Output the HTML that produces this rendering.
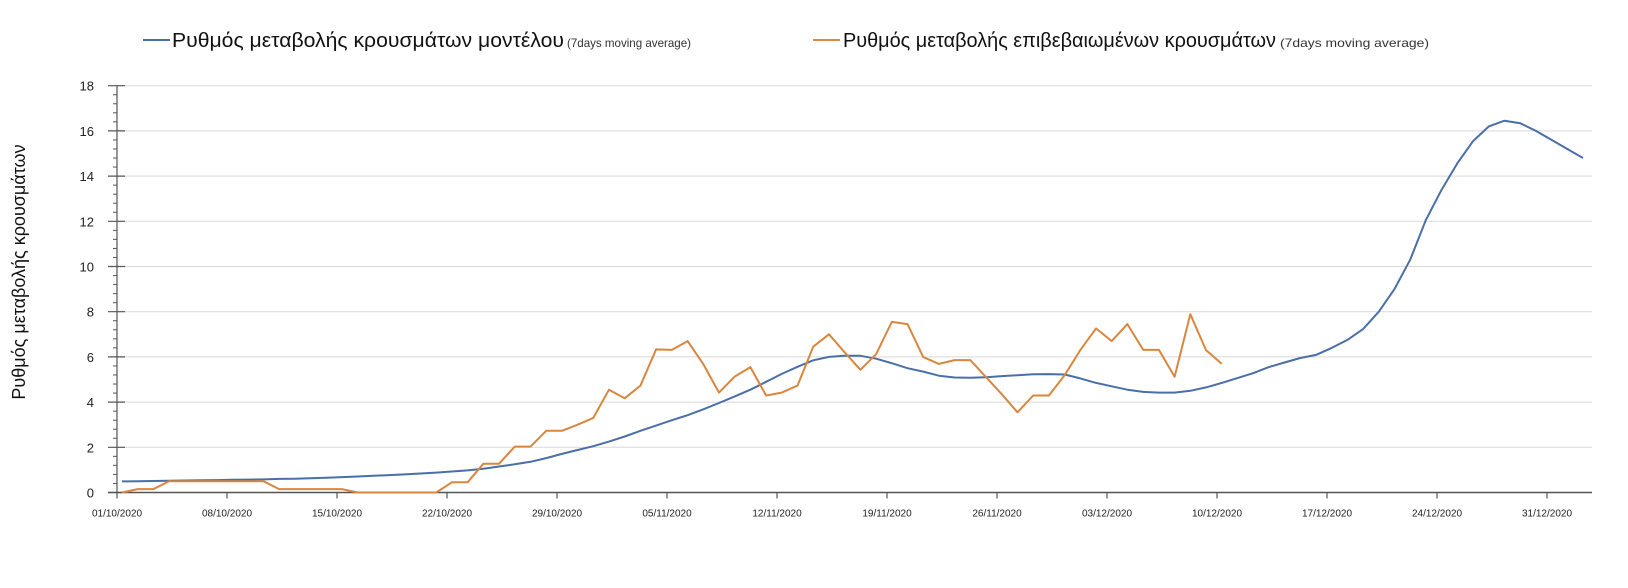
<!DOCTYPE html>
<html><head><meta charset="utf-8"><style>
html,body{margin:0;padding:0;background:#fff;}
svg{display:block;font-family:"Liberation Sans","DejaVu Sans",sans-serif;}
</style></head><body>
<svg id="chart" width="1628" height="588" viewBox="0 0 1628 588">
<g>
  <g>
    <line x1="143" y1="40" x2="170" y2="40" stroke="#4a6fa5" stroke-width="2"/>
    <text x="172" y="47" font-size="20" textLength="392" lengthAdjust="spacingAndGlyphs" fill="#111">Ρυθμός μεταβολής κρουσμάτων μοντέλου</text>
    <text x="567" y="47" font-size="12" textLength="124" lengthAdjust="spacingAndGlyphs" fill="#333">(7days moving average)</text>
  </g>
  <g>
    <line x1="813" y1="40" x2="840" y2="40" stroke="#d9883e" stroke-width="2"/>
    <text x="843" y="47" font-size="20" textLength="433" lengthAdjust="spacingAndGlyphs" fill="#111">Ρυθμός μεταβολής επιβεβαιωμένων κρουσμάτων</text>
    <text x="1280" y="47" font-size="12" textLength="149" lengthAdjust="spacingAndGlyphs" fill="#333">(7days moving average)</text>
  </g>
</g>
<text transform="translate(25,272) rotate(-90)" text-anchor="middle" font-size="18" fill="#111">Ρυθμός μεταβολής κρουσμάτων</text>
<g id="grid"></g><g id="axes"></g><g id="series"></g>
</svg>
<script>
const yTicks=[0,2,4,6,8,10,12,14,16,18];
const xLabels=["01/10/2020","08/10/2020","15/10/2020","22/10/2020","29/10/2020","05/11/2020","12/11/2020","19/11/2020","26/11/2020","03/12/2020","10/12/2020","17/12/2020","24/12/2020","31/12/2020"];
const modelValues=[0.49,0.5,0.51,0.52,0.53,0.54,0.55,0.56,0.57,0.58,0.6,0.61,0.63,0.65,0.68,0.71,0.74,0.77,0.8,0.84,0.88,0.93,0.98,1.05,1.15,1.25,1.36,1.52,1.71,1.88,2.05,2.25,2.48,2.73,2.96,3.2,3.42,3.68,3.96,4.25,4.55,4.9,5.25,5.56,5.85,6.0,6.05,6.05,5.92,5.72,5.5,5.35,5.17,5.09,5.08,5.1,5.15,5.19,5.23,5.24,5.22,5.05,4.85,4.7,4.55,4.45,4.42,4.42,4.5,4.65,4.85,5.06,5.28,5.55,5.75,5.95,6.09,6.4,6.75,7.23,8.0,9.0,10.3,12.06,13.4,14.57,15.55,16.2,16.45,16.34,16.0,15.6,15.2,14.8];
const confirmedValues=[0,0.15,0.15,0.5,0.5,0.5,0.5,0.5,0.5,0.5,0.15,0.15,0.15,0.15,0.15,0,0,0,0,0,0,0.45,0.45,1.27,1.27,2.03,2.03,2.73,2.73,3.0,3.3,4.55,4.17,4.73,6.33,6.31,6.7,5.68,4.42,5.13,5.55,4.29,4.42,4.73,6.45,7.0,6.2,5.43,6.12,7.55,7.45,5.99,5.69,5.86,5.86,5.1,4.35,3.55,4.29,4.29,5.19,6.3,7.26,6.7,7.45,6.31,6.31,5.12,7.89,6.3,5.7];
const NS="http://www.w3.org/2000/svg";
const X0=117,X1=1592,Y0=492.5,PXU=22.6,DAYPX=15.71,D0=122;
const xDay=d=>D0+DAYPX*d;
const yv=v=>Y0-PXU*v;
function mk(tag,attrs,parent){const e=document.createElementNS(NS,tag);for(const k in attrs)e.setAttribute(k,attrs[k]);parent.appendChild(e);return e;}
const grid=document.getElementById('grid'),axes=document.getElementById('axes'),series=document.getElementById('series');
yTicks.forEach(t=>{
  if(t>0){const g=mk('line',{x1:X0,x2:X1,y1:yv(t),y2:yv(t),stroke:'#d9d9d9','stroke-width':1},grid);
  
  }
  const tk=mk('line',{x1:X0-9,x2:X0+8,y1:yv(t),y2:yv(t),stroke:'#555','stroke-width':1.2},axes);
  
  
  const lb=mk('text',{x:X0-23,y:yv(t)+5,'text-anchor':'end','font-size':13,fill:'#222'},axes);
  lb.textContent=t;
  
  
});
for(let v=0.4;v<18;v+=0.4){
  if(Math.abs(v/2-Math.round(v/2))<0.01)continue;
  const m=mk('line',{x1:X0-4,x2:X0,y1:yv(v),y2:yv(v),stroke:'#555','stroke-width':1},axes);
  
  
}
const ya=mk('line',{x1:X0,x2:X0,y1:yv(18),y2:Y0,stroke:'#555','stroke-width':1.2},axes);


const xa=mk('line',{x1:X0-9,x2:X1,y1:Y0,y2:Y0,stroke:'#555','stroke-width':1.5},axes);


xLabels.forEach((l,i)=>{
  const x=X0+110*i;
  const tk=mk('line',{x1:x,x2:x,y1:Y0,y2:Y0+6,stroke:'#555','stroke-width':1.2},axes);
  
  
  const t=mk('text',{x:x,y:Y0+24,'text-anchor':'middle','font-size':10,fill:'#222'},axes);
  t.textContent=l;
  
  
});
function line(vals,color,name){
  const p=mk('polyline',{points:vals.map((v,i)=>xDay(i).toFixed(1)+','+yv(v).toFixed(1)).join(' '),fill:'none',stroke:color,'stroke-width':2,'stroke-linejoin':'round'},series);
  
  
}
line(modelValues,'#4a6fa8','model-series-line');
line(confirmedValues,'#d9863e','confirmed-series-line');
</script>
</body></html>
